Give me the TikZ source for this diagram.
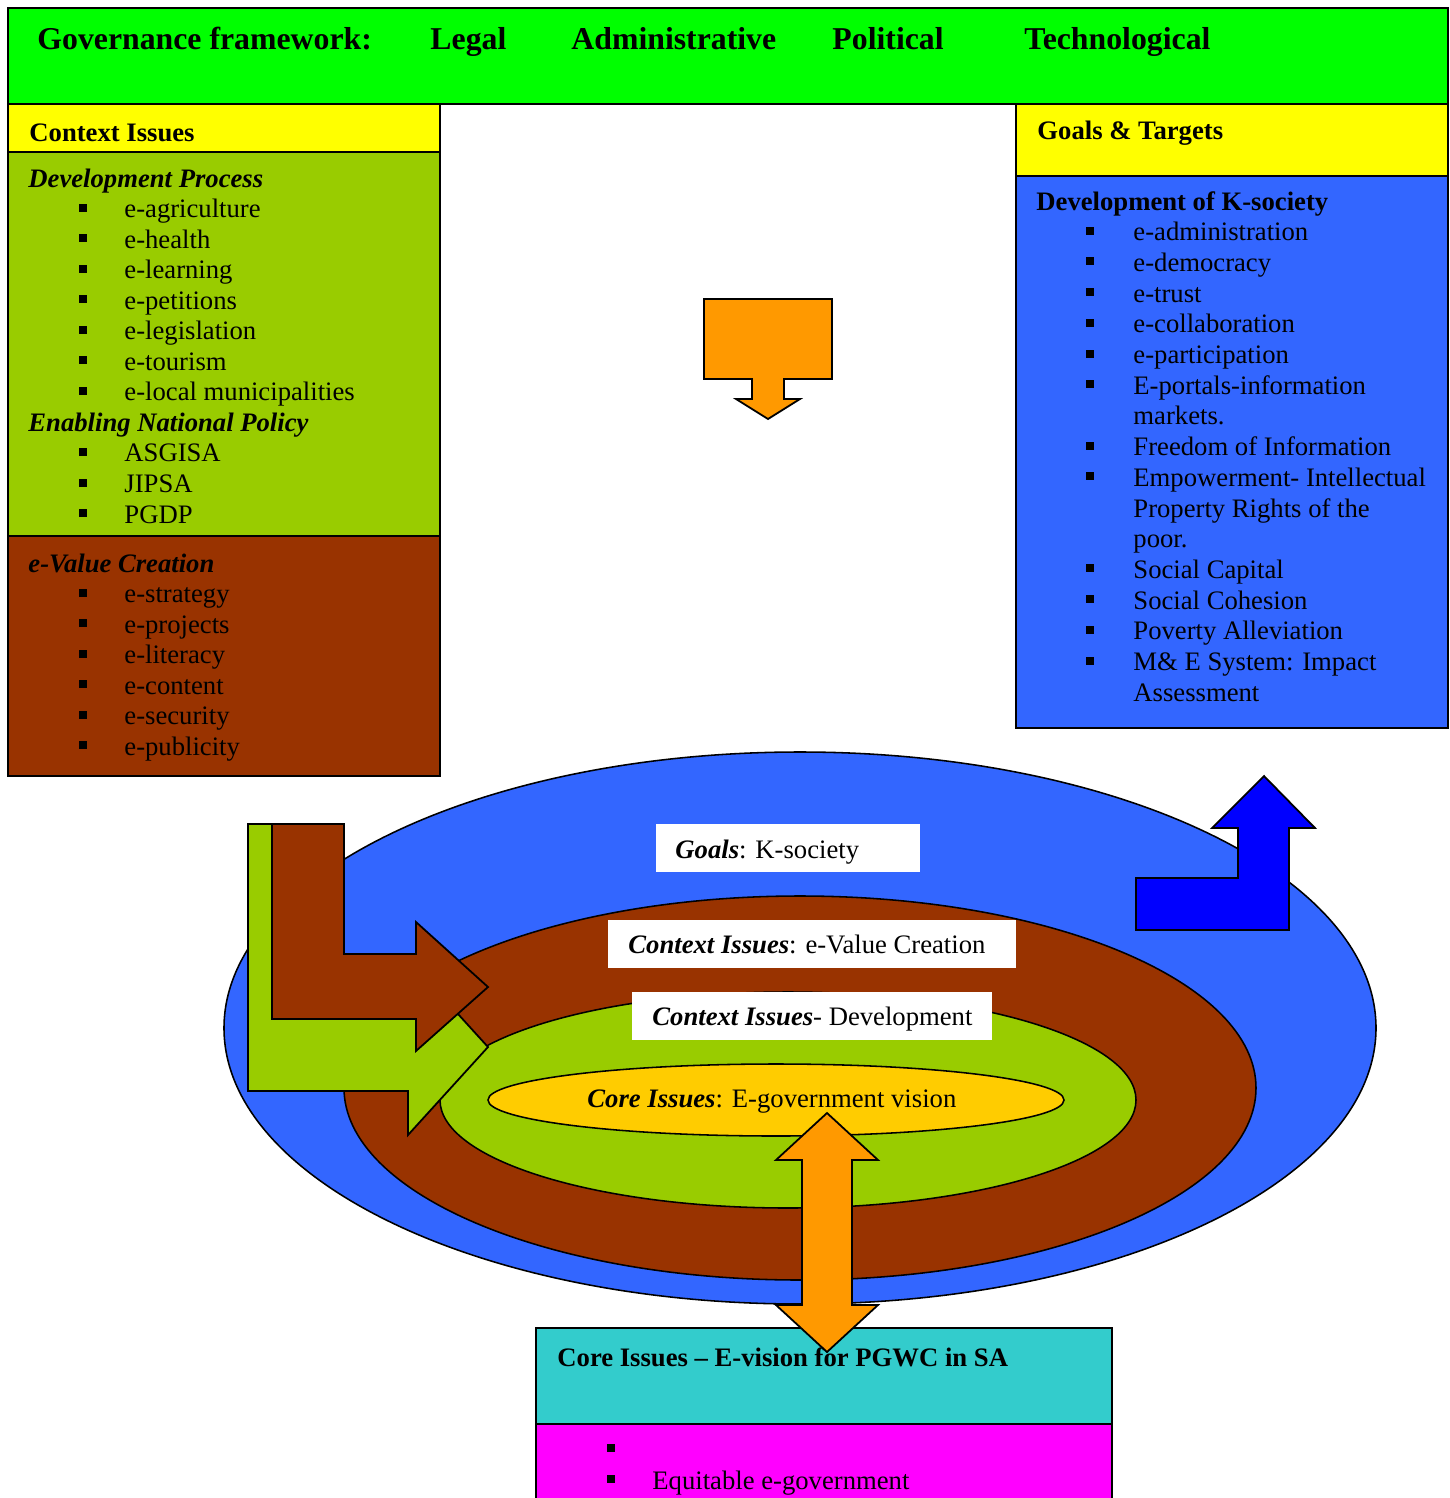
\documentclass[tikz,border=0pt]{standalone}
\usepackage{fontspec}
\setmainfont{Liberation Serif}
\definecolor{hgreen}{HTML}{00FF00}
\definecolor{hyellow}{HTML}{FFFF00}
\definecolor{olive}{HTML}{99CC00}
\definecolor{rust}{HTML}{993300}
\definecolor{sky}{HTML}{3366FF}
\definecolor{orng}{HTML}{FF9900}
\definecolor{gold}{HTML}{FFCC00}
\definecolor{teal2}{HTML}{33CCCC}
\definecolor{mag}{HTML}{FF00FF}
\definecolor{pblue}{HTML}{0000FF}
\newcommand\bitem[5]{%
  \fill (#2,#4-6) rectangle (#2+8,#4-14);
  \node[txt] (#1) at (#3,#4) {#5};}
\begin{document}
\begin{tikzpicture}[x=0.45pt,y=-0.45pt,
  txt/.style={anchor=base west, inner sep=0pt, font=\fontsize{12}{14}\selectfont},
  btxt/.style={txt, font=\fontsize{12}{14}\selectfont\bfseries},
  bitxt/.style={txt, font=\fontsize{12}{14}\selectfont\bfseries\itshape},
  hdr/.style={txt, font=\fontsize{14.3}{16}\selectfont\bfseries},
  box/.style={draw=black, line width=0.9pt},
  shp/.style={draw=black, line width=0.8pt, line join=miter}]
\useasboundingbox (0,0) rectangle (1450,1498);

% header
\draw[box, fill=hgreen] (8,8) rectangle (1448,104);
\node[hdr] (gov) at (37,49) {Governance framework:};
\node[hdr] (legal) at (430,49) {Legal};
\node[hdr] (adm) at (571,49) {Administrative};
\node[hdr] (pol) at (832,49) {Political};
\node[hdr] (tech) at (1024,49) {Technological};

% left boxes
\draw[box, fill=hyellow] (8,104) rectangle (440,152);
\draw[box, fill=olive] (8,152) rectangle (440,536);
\draw[box, fill=rust] (8,536) rectangle (440,776);
\node[btxt] (ctx) at (29,141) {Context Issues};
\node[bitxt] (devp) at (28,187) {Development Process};
\foreach \t [count=\i] in {e-agriculture,e-health,e-learning,e-petitions,e-legislation,e-tourism,e-local municipalities}{\bitem{dp\i}{79}{124}{187+30.55*\i}{\t}}
\node[bitxt] (enp) at (28,187+30.55*8) {Enabling National Policy};
\foreach \t [count=\i from 9] in {ASGISA,JIPSA,PGDP}{\bitem{np\i}{79}{124}{187+30.55*\i}{\t}}
\node[bitxt] (evc) at (28,572) {e-Value Creation};
\foreach \t [count=\i] in {e-strategy,e-projects,e-literacy,e-content,e-security,e-publicity}{\bitem{ev\i}{79}{124}{572+30.5*\i}{\t}}

% right boxes
\draw[box, fill=hyellow] (1016,104) rectangle (1448,176);
\draw[box, fill=sky] (1016,176) rectangle (1448,728);
\node[btxt] (gt) at (1037,139) {Goals \& Targets};
\node[btxt] (dks) at (1036,210) {Development of K-society};
\bitem{r1}{1086}{1133}{240.7}{e-administration}
\bitem{r2}{1086}{1133}{271.4}{e-democracy}
\bitem{r3}{1086}{1133}{302.1}{e-trust}
\bitem{r4}{1086}{1133}{332.8}{e-collaboration}
\bitem{r5}{1086}{1133}{363.5}{e-participation}
\bitem{r6}{1086}{1133}{394.2}{E-portals-information}
\node[txt] (r6b) at (1133,424.9) {markets.};
\bitem{r7}{1086}{1133}{455.6}{Freedom of Information}
\bitem{r8}{1086}{1133}{486.3}{Empowerment- Intellectual}
\node[txt] (r8b) at (1133,517) {Property Rights of the};
\node[txt] (r8c) at (1133,547.7) {poor.};
\bitem{r9}{1086}{1133}{578.4}{Social Capital}
\bitem{r10}{1086}{1133}{609.1}{Social Cohesion}
\bitem{r11}{1086}{1133}{639.8}{Poverty Alleviation}
\bitem{r12}{1086}{1133}{670.5}{M\& E System: Impact}
\node[txt] (r12b) at (1133,701.2) {Assessment};

% orange down arrow
\draw[shp, fill=orng] (704,299) -- (832,299) -- (832,379) -- (784,379) -- (784,399) -- (800,399) -- (768,419) -- (736,399) -- (752,399) -- (752,379) -- (704,379) -- cycle;

% ellipses
\draw[line width=0.7pt, fill=sky] (800,1028) ellipse [x radius=259.2pt, y radius=124.2pt];
\draw[line width=0.7pt, fill=rust] (800,1088) ellipse [x radius=205.2pt, y radius=86.4pt];
\draw[line width=0.7pt, fill=olive] (788,1100) ellipse [x radius=156.6pt, y radius=48.6pt];
\draw[line width=0.7pt, fill=gold] (776,1100) ellipse [x radius=129.6pt, y radius=16.2pt];
\node[txt] (core) at (587,1107) {\textbf{\textit{Core Issues}}: E-government vision};

% L arrows
\draw[shp, fill=olive] (248,824) -- (336,824) -- (336,1003) -- (408,1003) -- (408,959) -- (488,1047) -- (408,1135) -- (408,1091) -- (248,1091) -- cycle;
\draw[shp, fill=rust] (272,824) -- (344,824) -- (344,954) -- (416,954) -- (416,922) -- (488,987) -- (416,1051) -- (416,1019) -- (272,1019) -- cycle;

% labels
\fill[white] (656,824) rectangle (920,872);
\node[txt] (lg) at (675,858) {\textbf{\textit{Goals}}: K-society};
\fill[white] (608,920) rectangle (1016,968);
\node[txt] (lv) at (628,953) {\textbf{\textit{Context Issues}}: e-Value Creation};
\fill[white] (632,992) rectangle (992,1040);
\node[txt] (ld) at (652,1025) {\textbf{\textit{Context Issues}}- Development};

% blue up arrow
\draw[shp, fill=pblue] (1136,878) -- (1238,878) -- (1238,828) -- (1212,828) -- (1264,776) -- (1315,828) -- (1289,828) -- (1289,930) -- (1136,930) -- cycle;

% bottom boxes
\draw[box, fill=teal2] (536,1328) rectangle (1112,1424);
\draw[box, fill=mag] (536,1424) rectangle (1112,1515);

% orange double arrow
\draw[shp, fill=orng] (827,1113) -- (878,1160) -- (852,1160) -- (852,1305) -- (878,1305) -- (827,1352) -- (776,1305) -- (802,1305) -- (802,1160) -- (776,1160) -- cycle;

\node[btxt] (cv) at (557,1366) {Core Issues \textendash{} E-vision for PGWC in SA};
\fill (607,1444) rectangle (615,1452);
\bitem{eq}{607}{652}{1489}{Equitable e-government}
\end{tikzpicture}
\end{document}
